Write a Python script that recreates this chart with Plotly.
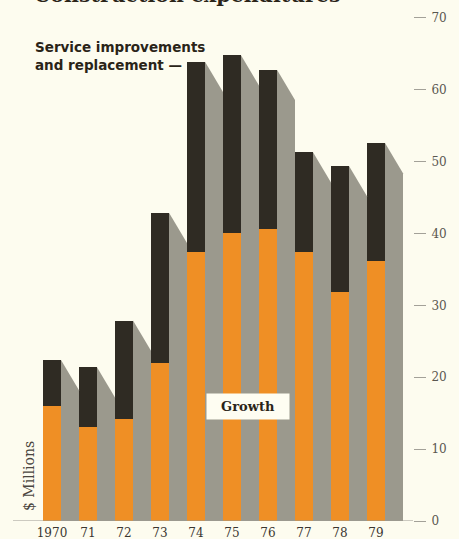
import plotly.graph_objects as go

years = ["1970", "71", "72", "73", "74", "75", "76", "77", "78", "79"]
growth = [16.0, 13.1, 14.2, 22.0, 37.5, 40.1, 40.7, 37.5, 31.8, 36.2]
total = [22.4, 21.4, 27.9, 42.9, 63.9, 64.8, 62.8, 51.3, 49.4, 52.6]
service = [round(t - g, 1) for t, g in zip(total, growth)]
y_ticks = [0, 10, 20, 30, 40, 50, 60, 70]

BG = "#FDFCEF"
ORANGE = "#EF8F25"
DARK = "#2F2B23"
GRAY = "#9B998D"
SERIF = "DejaVu Serif"
shadow_drop = 4.2
xs = list(range(len(years)))

fig = go.Figure()

# shadows behind bars
for i, t in zip(xs, total):
    fig.add_trace(go.Scatter(
        x=[i + 0.25, i + 0.75, i + 0.75, i + 0.25, i + 0.25],
        y=[t, t - shadow_drop, 0, 0, t],
        mode="lines", fill="toself", fillcolor=GRAY,
        line=dict(width=0, color=GRAY), hoverinfo="skip", showlegend=False))

fig.add_trace(go.Bar(x=xs, y=growth, width=0.5, marker=dict(color=ORANGE, line=dict(width=0)),
                     name="Growth", showlegend=False))
fig.add_trace(go.Bar(x=xs, y=service, width=0.5, marker=dict(color=DARK, line=dict(width=0)),
                     name="Service improvements and replacement", showlegend=False))

fig.update_layout(
    barmode="stack",
    width=459, height=539,
    margin=dict(l=0, r=46, t=0, b=18),
    paper_bgcolor=BG, plot_bgcolor=BG,
    xaxis=dict(range=[-52/36, (413-52)/36], tickvals=xs, ticktext=years,
               showgrid=False, zeroline=False, showline=False, ticks="",
               ticklabelstandoff=3,
               tickfont=dict(family=SERIF, size=12, color="#3a3630")),
    yaxis=dict(range=[0, 72.5], side="right", tickvals=y_ticks,
               showgrid=False, zeroline=False, showline=False,
               ticks="outside", ticklen=12, tickwidth=1, tickcolor="#a3a198",
               ticklabelstandoff=3,
               tickfont=dict(family=SERIF, size=12, color="#5a5750")),
    shapes=[dict(type="line", xref="x", yref="y", x0=(13-52)/36, x1=(423-52)/36, y0=0, y1=0,
                 line=dict(color="#9a9890", width=1))],
    annotations=[
        dict(text="<b>Construction expenditures</b>", xref="paper", yref="paper",
             x=32/413, y=1 - 9/521, xanchor="left", yanchor="bottom", showarrow=False,
             font=dict(family=SERIF, size=20.5, color="#2a2418")),
        dict(text="<b>Service improvements<br>and replacement —</b>", xref="paper", yref="paper",
             x=33/413, y=1 - 37/521, xanchor="left", yanchor="top", showarrow=False, align="left",
             font=dict(family="DejaVu Sans", size=13.5, color="#2a2418")),
        dict(text="<b>Growth</b>", xref="x", yref="y", x=(248-52)/36, y=(521-406)/7.186,
             showarrow=False, bgcolor="#FEFDF2", borderpad=5, width=72,
             font=dict(family=SERIF, size=13, color="#2a2418")),
        dict(text="$ Millions", xref="paper", yref="paper", x=29/413, y=(521-476)/521,
             xanchor="center", yanchor="middle",
             textangle=-90, showarrow=False,
             font=dict(family=SERIF, size=14, color="#4a4640")),
    ],
)

fig.write_html("out.html")
